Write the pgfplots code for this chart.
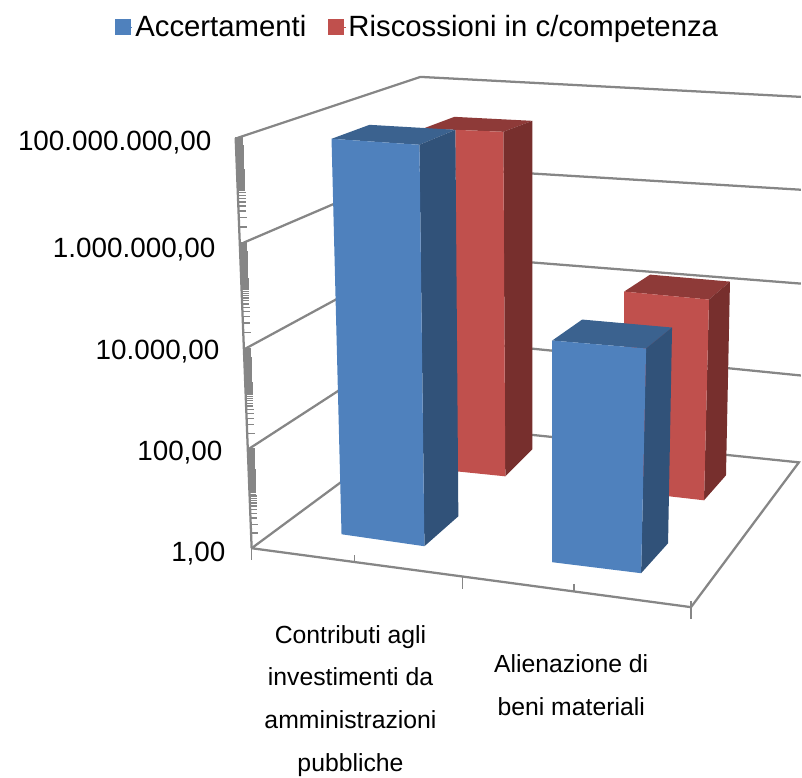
\documentclass[border=0pt]{standalone}
\usepackage{pgfplots}
\pgfplotsset{compat=1.18}
\usepackage{fontspec}
\setmainfont{Liberation Sans}
\definecolor{bluef}{HTML}{4F81BD}
\definecolor{blues}{HTML}{315279}
\definecolor{bluet}{HTML}{3B628F}
\definecolor{redf}{HTML}{C0504D}
\definecolor{reds}{HTML}{772F2D}
\definecolor{redt}{HTML}{8E3A38}
\definecolor{gr}{HTML}{868686}
% minor log ticks of one labelled step (two decades): bottom x,y ; top x,y ; length
\newcommand{\logticks}[5]{%
  \pgfplotsinvokeforeach{2,...,99}{%
    \draw[gr,line width=1.15pt] (axis cs:{#1+(#3-#1)*log10(##1)/2},{#2+(#4-#2)*log10(##1)/2})
      -- (axis cs:{#1+(#3-#1)*log10(##1)/2+#5},{#2+(#4-#2)*log10(##1)/2});
  }%
}
\begin{document}
\begin{tikzpicture}
\begin{axis}[
  scale only axis, width=601.5pt, height=582pt,
  xmin=0, xmax=802, ymin=0, ymax=776, y dir=reverse,
  hide axis, clip=false,
  legend style={at={(axis cs:115,27)}, anchor=west, draw=none, fill=none,
    font=\fontsize{22}{24}\selectfont, inner sep=0pt, outer sep=0pt,
    /tikz/every even column/.append style={column sep=14.3pt}},
  legend columns=2,
  legend cell align=left,
  legend image code/.code={\fill[#1] (0pt,-5.6pt) rectangle (11.6pt,6pt);\path (0pt,0pt) -- (13pt,0pt);},
]
\addlegendimage{bluef}
\addlegendentry{Accertamenti}
\addlegendimage{redf}
\addlegendentry{Riscossioni in c/competenza}
\path[draw=none] (axis cs:0,0) rectangle (axis cs:802,776);

% walls: back and left gridlines
\addplot[gr, line width=1.7pt, forget plot] coordinates {(238,138) (421,77) (802,97)};
\addplot[gr, line width=1.7pt, forget plot] coordinates {(244,243) (421,167) (802,190)};
\addplot[gr, line width=1.7pt, forget plot] coordinates {(246,349) (421,254) (802,284)};
\addplot[gr, line width=1.7pt, forget plot] coordinates {(250,449) (421,338) (802,376)};
\addplot[gr, line width=1.7pt, forget plot] coordinates {(252,549) (421,424) (800,463) (692,608) (252,549)};
% value axis
\addplot[gr, line width=1.7pt, forget plot] coordinates {(236,138) (252,549)};
\logticks{240}{243}{235.5}{138}{8}
\logticks{244}{349}{240}{243}{7.5}
\logticks{248}{449}{244}{349}{7.5}
\logticks{252}{549}{248}{449}{7}
% category ticks
\addplot[gr, line width=1.2pt, forget plot] coordinates {(252,549) (252,561)};
\addplot[gr, line width=1.2pt, forget plot] coordinates {(355,556) (355,563)};
\addplot[gr, line width=1.2pt, forget plot] coordinates {(463,577) (463,590)};
\addplot[gr, line width=1.2pt, forget plot] coordinates {(575,585) (575,592)};
\addplot[gr, line width=1.2pt, forget plot] coordinates {(692,602) (692,620)};

% Riscossioni, first category
\addplot[fill=redt, draw=none, forget plot] coordinates {(423,129) (455,117) (533,121) (504,132) (456,130)} --cycle;
\addplot[fill=reds, draw=none, forget plot] coordinates {(504,132) (533,121) (533,450) (506,477)} --cycle;
\addplot[fill=redf, draw=none, forget plot] coordinates {(456,130) (504,132) (506,477) (457,472)} --cycle;
% Accertamenti, first category
\addplot[fill=bluet, draw=none, forget plot] coordinates {(332,139) (370,125) (456,130) (420,145)} --cycle;
\addplot[fill=blues, draw=none, forget plot] coordinates {(420,145) (456,130) (459,517) (425,547)} --cycle;
\addplot[fill=bluef, draw=none, forget plot] coordinates {(332,139) (420,145) (425,547) (342,535)} --cycle;
% Riscossioni, second category
\addplot[fill=redt, draw=none, forget plot] coordinates {(625,292) (651,275) (731,282) (710,300)} --cycle;
\addplot[fill=reds, draw=none, forget plot] coordinates {(710,300) (731,282) (727,476) (705,501)} --cycle;
\addplot[fill=redf, draw=none, forget plot] coordinates {(625,292) (710,300) (705,501) (670,497) (625,497)} --cycle;
% Accertamenti, second category
\addplot[fill=bluet, draw=none, forget plot] coordinates {(553,341) (583,320) (673,328) (647,349)} --cycle;
\addplot[fill=blues, draw=none, forget plot] coordinates {(647,349) (673,328) (669,544) (642,574)} --cycle;
\addplot[fill=bluef, draw=none, forget plot] coordinates {(553,341) (647,349) (642,574) (553,563)} --cycle;

% value labels
\node[anchor=base east, font=\fontsize{20.9}{24}\selectfont, inner sep=0pt] at (axis cs:212,151) {100.000.000,00};
\node[anchor=base east, font=\fontsize{20.9}{24}\selectfont, inner sep=0pt] at (axis cs:216,258) {1.000.000,00};
\node[anchor=base east, font=\fontsize{20.9}{24}\selectfont, inner sep=0pt] at (axis cs:220,360) {10.000,00};
\node[anchor=base east, font=\fontsize{20.9}{24}\selectfont, inner sep=0pt] at (axis cs:223,461) {100,00};
\node[anchor=base east, font=\fontsize{20.9}{24}\selectfont, inner sep=0pt] at (axis cs:226,562) {1,00};
% category labels
\node[anchor=base, font=\fontsize{18.6}{24}\selectfont, inner sep=0pt] at (axis cs:351,644) {Contributi agli};
\node[anchor=base, font=\fontsize{18.6}{24}\selectfont, inner sep=0pt] at (axis cs:351,686) {investimenti da};
\node[anchor=base, font=\fontsize{18.6}{24}\selectfont, inner sep=0pt] at (axis cs:351,730) {amministrazioni};
\node[anchor=base, font=\fontsize{18.6}{24}\selectfont, inner sep=0pt] at (axis cs:351,773) {pubbliche};
\node[anchor=base, font=\fontsize{18.6}{24}\selectfont, inner sep=0pt] at (axis cs:572,673) {Alienazione di};
\node[anchor=base, font=\fontsize{18.6}{24}\selectfont, inner sep=0pt] at (axis cs:572,716) {beni materiali};
\end{axis}
\end{tikzpicture}
\end{document}
